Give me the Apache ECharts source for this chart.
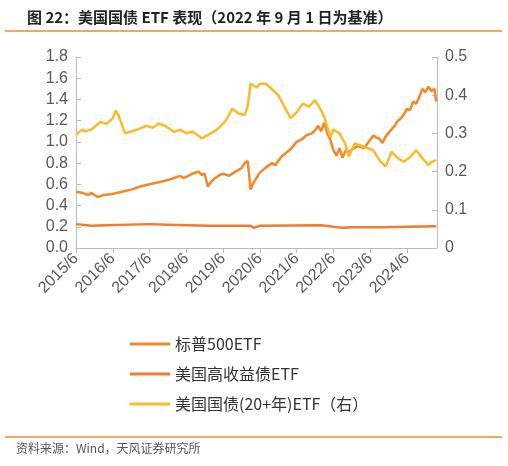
<!DOCTYPE html>
<html><head><meta charset="utf-8">
<script src="https://cdn.jsdelivr.net/npm/echarts@6/dist/echarts.min.js"></script>
<style>html,body{margin:0;padding:0;background:#fff}#c{width:508px;height:466px}</style>
</head><body><div id="c"></div>
<script>
// month index from 2015/6
const xTickLabels = ['2015/6','2016/6','2017/6','2018/6','2019/6','2020/6','2021/6','2022/6','2023/6','2024/6'];
const spx = [[0,.53],[2,.52],[4,.50],[5,.52],[7,.48],[9,.50],[12,.51],[15,.53],[18,.55],[21,.58],[24,.60],[27,.62],[30,.64],[32,.66],[34,.68],[35,.66],[36,.67],[38,.70],[40,.72],[41,.69],[42,.70],[43,.58],[44,.62],[45,.65],[47,.69],[48,.70],[50,.68],[52,.72],[54,.75],[55,.80],[56,.82],[57,.55],[58,.62],[60,.71],[62,.76],[64,.80],[65,.78],[67,.86],[70,.93],[72,1.00],[74,1.03],[75,1.06],[77,1.08],[78,1.11],[79,1.15],[80,1.10],[81,1.18],[82,1.08],[83,1.02],[84,.92],[85,.87],[86,.94],[87,.85],[88,.92],[89,.90],[90,.93],[92,.96],[94,.94],[96,1.02],[97,1.06],[98,1.04],[99,1.03],[100,.99],[101,1.05],[103,1.12],[104,1.15],[105,1.20],[106,1.22],[107,1.26],[108,1.31],[109,1.30],[110,1.38],[111,1.36],[112,1.42],[113,1.50],[114,1.47],[115,1.52],[116,1.48],[117,1.50],[117.5,1.38]];
const hy = [[0,.225],[5,.21],[10,.215],[24,.225],[30,.22],[43,.21],[57,.21],[58,.19],[60,.21],[80,.215],[84,.20],[87,.19],[90,.195],[100,.195],[108,.20],[117.5,.205]];
const tlt = [[0,.296],[2,.31],[3,.305],[5,.31],[8,.33],[10,.325],[12,.34],[13,.36],[14,.345],[16,.30],[18,.305],[20,.31],[23,.32],[25,.315],[27,.326],[29,.32],[32,.304],[34,.31],[36,.30],[38,.305],[41,.287],[44,.30],[46,.31],[49,.335],[51,.365],[53,.352],[55,.348],[56,.37],[57,.43],[59,.42],[60,.43],[62,.43],[64,.415],[66,.40],[68,.37],[70,.34],[72,.355],[74,.378],[76,.37],[78,.387],[80,.36],[81,.343],[83,.29],[84,.31],[86,.30],[88,.27],[89,.239],[91,.274],[94,.265],[97,.256],[99,.23],[101,.213],[103,.252],[105,.235],[107,.226],[109,.238],[111,.256],[113,.235],[115,.217],[116,.225],[117.5,.23]];
const names = ['标普500ETF','美国高收益债ETF','美国国债(20+年)ETF（右）'];
const chart = echarts.init(document.getElementById('c'));
const axisLbl = {color:'#595959',fontSize:16,fontFamily:'Liberation Sans'};
chart.setOption({
  animation:false,
  title:{text:'图 22：美国国债 ETF 表现（2022 年 9 月 1 日为基准）',left:22,top:5,textStyle:{fontSize:15,fontWeight:'bold',color:'#222',fontFamily:'Noto Sans CJK SC'}},
  graphic:[
    {type:'line',shape:{x1:5,y1:31,x2:502,y2:31},style:{stroke:'#F08A2C',lineWidth:1.5}},
    {type:'line',shape:{x1:5,y1:437,x2:502,y2:437},style:{stroke:'#F08A2C',lineWidth:1.5}},
    {type:'text',left:16,top:442,style:{text:'资料来源：Wind，天风证券研究所',fontSize:12,fill:'#555',fontFamily:'Noto Sans CJK SC'}}
  ],
  grid:{left:76,right:71,top:57,bottom:218},
  legend:{orient:'vertical',left:125,top:331,itemGap:14,itemWidth:40,itemHeight:3,icon:'rect',data:names,
    textStyle:{fontSize:16,color:'#333',fontFamily:'Noto Sans CJK SC'}},
  xAxis:{type:'value',min:0,max:117.8,interval:12,
    axisLine:{lineStyle:{color:'#bbb'}},axisTick:{show:true,lineStyle:{color:'#bbb'}},splitLine:{show:false},
    axisLabel:Object.assign({rotate:45,showMaxLabel:false,formatter:v=>xTickLabels[Math.round(v/12)]||''},axisLbl)},
  yAxis:[
    {type:'value',min:0,max:1.8,interval:0.2,axisLine:{show:true,lineStyle:{color:'#bbb'}},axisTick:{show:true,inside:true,lineStyle:{color:'#bbb'}},splitLine:{show:false},
      axisLabel:Object.assign({formatter:v=>v.toFixed(1)},axisLbl)},
    {type:'value',min:0,max:0.5,interval:0.1,axisLine:{show:true,lineStyle:{color:'#bbb'}},axisTick:{show:true,inside:true,lineStyle:{color:'#bbb'}},splitLine:{show:false},
      axisLabel:Object.assign({formatter:v=>v===0?'0':v.toFixed(1)},axisLbl)}
  ],
  series:[
    {name:names[0],type:'line',data:spx,showSymbol:false,lineStyle:{width:2.5,color:'#F5862A'},itemStyle:{color:'#F5862A'}},
    {name:names[1],type:'line',data:hy,showSymbol:false,lineStyle:{width:2.5,color:'#ED7D31'},itemStyle:{color:'#ED7D31'}},
    {name:names[2],type:'line',yAxisIndex:1,data:tlt,showSymbol:false,lineStyle:{width:2.5,color:'#FABA2A'},itemStyle:{color:'#FABA2A'}}
  ]
});
</script></body></html>
